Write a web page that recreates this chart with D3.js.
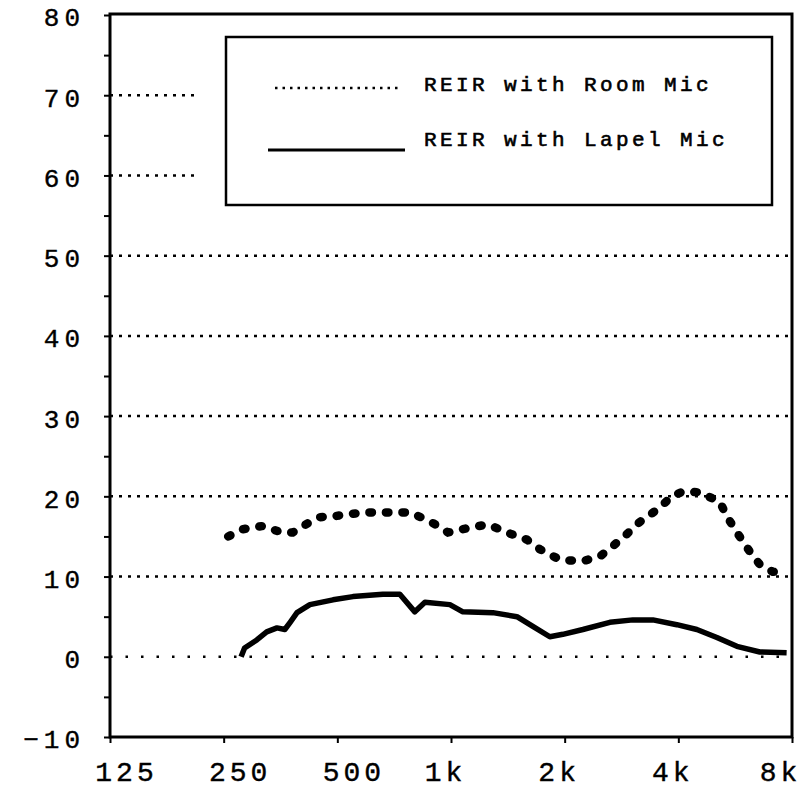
<!DOCTYPE html>
<html>
<head>
<meta charset="utf-8">
<script src="https://cdn.jsdelivr.net/npm/d3@7"></script>
<style>
  body { margin: 0; background: #fff; }
  text { font-family: "Liberation Mono", "Courier New", monospace; fill: #000; }
</style>
</head>
<body>
<div class="chart"></div>
<script>
// frequency (Hz) / REIR (dB)
var roomFreq = [257, 281, 317, 356, 381, 423, 450, 487, 540, 599, 702, 778, 879, 982, 1122, 1253, 1406, 1589, 1720, 1943, 2221, 2479, 2684, 2923, 3162, 3530, 3845, 4111, 4560, 5152, 5379, 5716, 6187, 6575, 7117, 7426];
var roomDb = [15.0, 15.9, 16.3, 15.5, 15.5, 16.8, 17.4, 17.5, 17.8, 18.0, 18.0, 18.0, 16.9, 15.5, 16.1, 16.5, 15.5, 14.6, 13.4, 12.1, 11.9, 12.5, 13.8, 15.3, 16.8, 18.4, 20.0, 20.6, 20.5, 19.3, 17.5, 15.5, 13.1, 11.5, 10.6, 10.6];

var lapelFreq = [278, 284, 306, 325, 346, 363, 375, 391, 423, 487, 550, 660, 732, 802, 853, 993, 1075, 1291, 1495, 1647, 1827, 1978, 2235, 2635, 3032, 3426, 3964, 4478, 5060, 5716, 6575, 7742];
var lapelDb = [0, 1.1, 2.1, 3.1, 3.6, 3.4, 4.3, 5.5, 6.5, 7.1, 7.5, 7.8, 7.8, 5.6, 6.8, 6.5, 5.6, 5.5, 5.0, 3.8, 2.5, 2.8, 3.4, 4.3, 4.6, 4.6, 4.0, 3.4, 2.4, 1.3, 0.6, 0.5];

var freqTicks = [125, 250, 500, 1000, 2000, 4000, 8000];
var freqLabels = ['125', '250', '500', '1k', '2k', '4k', '8k'];
var dbTicks = [-10, 0, 10, 20, 30, 40, 50, 60, 70, 80];
var gridDb = [0, 10, 20, 30, 40, 50, 60, 70];
var legendLabels = ['REIR with Room Mic', 'REIR with Lapel Mic'];

var width = 804, height = 797;
var plotLeft = 110, plotRight = 792, plotTop = 15, plotBottom = 737;

var svg = d3.select('.chart')
    .append('svg')
    .attr('width', width)
    .attr('height', height);

var x = d3.scaleLog()
    .domain([125, 8000])
    .range([plotLeft, plotRight]);

var y = d3.scaleLinear()
    .domain([-10, 80])
    .range([plotBottom, plotTop]);

// dotted grid
svg.append('g')
    .selectAll('line')
    .data(gridDb)
    .enter()
    .append('line')
    .attr('x1', plotLeft)
    .attr('x2', plotRight)
    .attr('y1', d => y(d))
    .attr('y2', d => y(d))
    .attr('stroke', '#000')
    .attr('stroke-width', 2.5)
    .attr('stroke-dasharray', d => d === 0 ? '2.5,13' : '3,6');

// legend box (white backing hides the upper grid lines)
var legend = svg.append('g');
legend.append('rect')
    .attr('x', 198)
    .attr('y', plotTop + 4)
    .attr('width', plotRight - 198 - 2)
    .attr('height', 192)
    .attr('fill', '#fff');
legend.append('rect')
    .attr('x', 226)
    .attr('y', 37)
    .attr('width', 546)
    .attr('height', 168)
    .attr('fill', 'none')
    .attr('stroke', '#000')
    .attr('stroke-width', 2.5);

legend.append('line')
    .attr('x1', 275).attr('x2', 402)
    .attr('y1', 88).attr('y2', 88)
    .attr('stroke', '#000')
    .attr('stroke-width', 2.5)
    .attr('stroke-dasharray', '2.5,5');
legend.append('line')
    .attr('x1', 268).attr('x2', 405)
    .attr('y1', 150).attr('y2', 150)
    .attr('stroke', '#000')
    .attr('stroke-width', 3);

legend.selectAll('.leg-text')
    .data(legendLabels)
    .enter()
    .append('text')
    .attr('class', 'leg-text')
    .attr('x', 424)
    .attr('y', (d, i) => 91 + i * 55)
    .style('font-size', '21px')
    .style('letter-spacing', '3.4px')
    .style('stroke', '#000')
    .style('stroke-width', 0.6)
    .text(d => d);

// curves
var line = d3.line()
    .x(d => x(d[0]))
    .y(d => y(d[1]));

svg.append('path')
    .datum(roomFreq.map((f, i) => [f, roomDb[i]]))
    .attr('d', line)
    .attr('fill', 'none')
    .attr('stroke', '#000')
    .attr('stroke-width', 8.5)
    .attr('stroke-linecap', 'round')
    .attr('stroke-dasharray', '2.5,14');

svg.append('path')
    .datum(lapelFreq.map((f, i) => [f, lapelDb[i]]))
    .attr('d', line)
    .attr('fill', 'none')
    .attr('stroke', '#000')
    .attr('stroke-width', 5.5)
    .attr('stroke-linejoin', 'round');

// frame
svg.append('rect')
    .attr('x', plotLeft)
    .attr('y', plotTop - 1)
    .attr('width', plotRight - plotLeft)
    .attr('height', plotBottom - plotTop + 1)
    .attr('fill', 'none')
    .attr('stroke', '#000')
    .attr('stroke-width', 3);

// y axis
var yAxis = d3.axisLeft(y)
    .tickValues(d3.range(-10, 81, 5))
    .tickSize(6)
    .tickPadding(19)
    .tickFormat(d => dbTicks.indexOf(d) >= 0 ? (d < 0 ? '\u2212' + (-d) : d) : '');

var yg = svg.append('g')
    .attr('transform', `translate(${plotLeft}, 0)`)
    .call(yAxis);
yg.select('.domain').remove();
yg.selectAll('line').attr('stroke-width', 2);
yg.selectAll('text')
    .attr('dy', '0.42em')
    .style('font-size', '26px')
    .style('letter-spacing', '5px')
    .style('stroke', '#000')
    .style('stroke-width', 0.4);

// x axis
var xAxis = d3.axisBottom(x)
    .tickValues(freqTicks)
    .tickSize(6)
    .tickPadding(18)
    .tickFormat((d, i) => freqLabels[i]);

var xg = svg.append('g')
    .attr('transform', `translate(0, ${plotBottom})`)
    .call(xAxis);
xg.select('.domain').remove();
xg.selectAll('line').attr('stroke-width', 2);
xg.selectAll('text')
    .attr('dy', '0.71em')
    .attr('dx', d => d < 1000 ? 16 : (d < 8000 ? -6 : -12))
    .style('font-size', '28px')
    .style('letter-spacing', '4px')
    .style('stroke', '#000')
    .style('stroke-width', 0.4);
</script>
</body>
</html>
